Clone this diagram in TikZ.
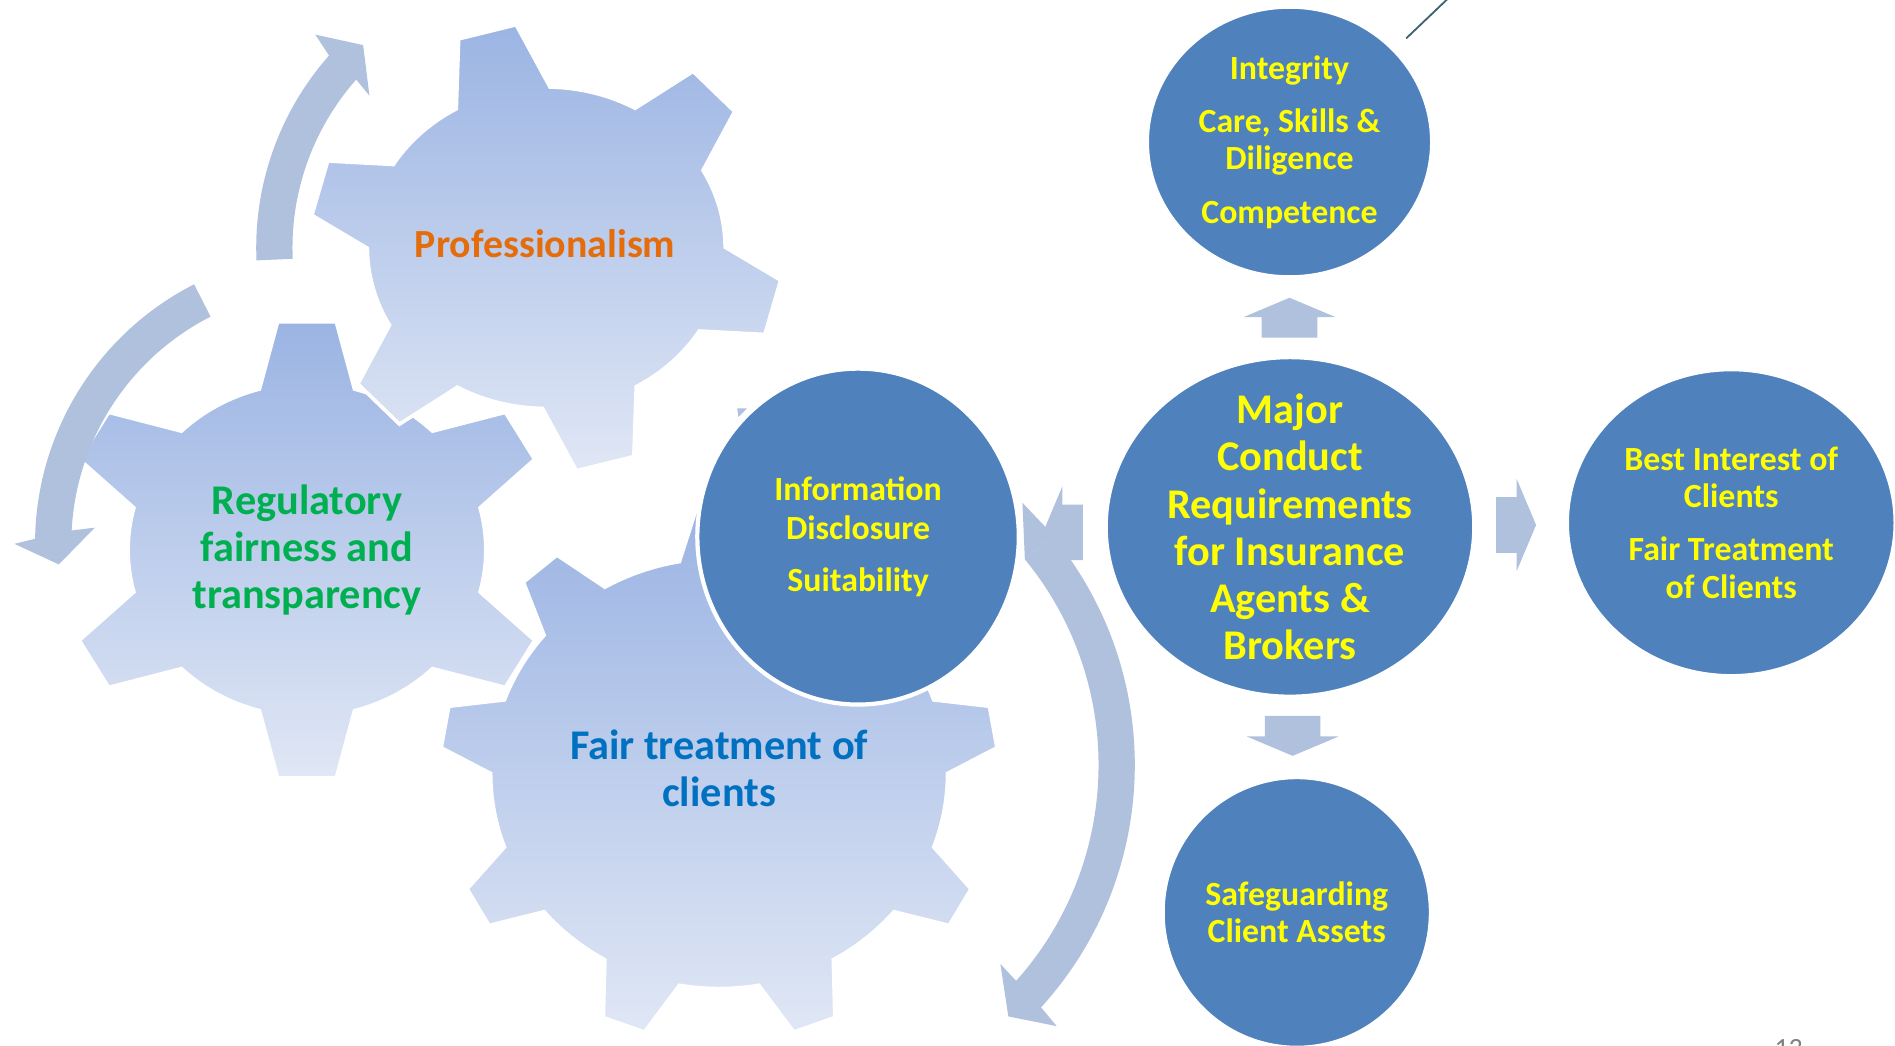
\documentclass[tikz,border=0pt]{standalone}
\usepackage{fontspec}
\setmainfont{Carlito}
\usetikzlibrary{shapes.geometric}

\definecolor{bubblec}{RGB}{79,129,189}
\definecolor{arrowc}{RGB}{176,193,221}
\definecolor{geartop}{RGB}{155,180,227}
\definecolor{gearbot}{RGB}{224,231,245}
\definecolor{profc}{RGB}{228,108,10}
\definecolor{regc}{RGB}{0,176,80}
\definecolor{fairc}{RGB}{0,112,192}
\definecolor{txtc}{RGB}{255,255,0}

\begin{document}
\begin{tikzpicture}[x=1pt, y=1pt,
    gearfill/.style={top color=geartop, bottom color=gearbot, draw=white, line width=3},
    bubble/.style={ellipse, fill=bubblec, draw=white, line width=3.5, inner sep=0},
    ctext/.style={text=txtc, align=center, inner sep=0, font=\fontsize{28}{31}\selectfont\bfseries},
    gtext/.style={align=center, inner sep=0, font=\fontsize{35}{39}\selectfont\bfseries}]
    \useasboundingbox (0,0) rectangle (1568,865);
    \clip (0,0) rectangle (1568,865);
    \fill[white] (0,0) rectangle (1568,865);

    % Gears: centre / teeth / first tooth / body radii / tip radii / half angles
    \foreach \cx/\cy/\N/\st/\ba/\bb/\oa/\ob/\at/\ab in {
        595/225/9/10/189/178/231/222/4.5/10,
        254/410/6/90/148/138/205/190/6.8/15.4,
        452/660/6/44.5/148/133/196/186/7.2/15.7} {
        \path[gearfill, shift={(\cx,\cy)}]
            (xyz polar cs:angle=\st-\ab, x radius=\ba, y radius=\bb)
            \foreach \k [evaluate=\k as \t using {\st+(\k-1)*360/\N}] in {1,...,\N} {
                -- (xyz polar cs:angle=\t-\at, x radius=\oa, y radius=\ob)
                -- (xyz polar cs:angle=\t+\at, x radius=\oa, y radius=\ob)
                -- (xyz polar cs:angle=\t+\ab, x radius=\ba, y radius=\bb)
                arc[start angle={\t+\ab}, end angle={\t+360/\N-\ab}, x radius=\ba, y radius=\bb]
            } -- cycle;
    }

    % Circular arrows round the gears
    \fill[arrowc, shift={(452,660)}] (182.5:240) arc[start angle=182.5, end angle=138.5, radius=240]
        -- (137.3:260) -- (132.1:226) -- (139.3:193) -- (138.5:210)
        arc[start angle=138.5, end angle=182.5, radius=210] -- cycle;
    \fill[arrowc, shift={(270,415)}] (117:241) arc[start angle=117, end angle=179, radius=241]
        -- (180:258) -- (184.4:222) -- (176:192) -- (177:211)
        arc[start angle=177, end angle=117, radius=211] -- cycle;
    \fill[arrowc, shift={(641,232)}] (39.4:298) arc[start angle=39.4, end angle=-42.3, radius=298]
        -- (-42.8:318) -- (-47.1:284) -- (-41.4:249) -- (-41.8:268)
        arc[start angle=-41.8, end angle=39.4, radius=268] -- cycle;
    \fill[arrowc] (848,402) -- (846,449) -- (864,430) -- (871.3,421.1) -- cycle;
    \fill[arrowc] (610,527) -- (618,527) -- (611,520) -- cycle;

    % Gear labels
    \node[gtext, text=profc, font=\fontsize{33}{37}\selectfont\bfseries] (prof) at (451,663) {Professionalism};
    \node[gtext, text=regc] (reg) at (254,410) {Regulatory\\fairness and\\transparency};
    \node[gtext, text=fairc] (fair) at (595,229.5) {Fair treatment of\\clients};

    % Block arrows out of the centre
    \foreach \x/\y/\r in {1067/585.6/0, 1069.6/272.6/180, 1238/430.6/-90, 896/424.5/90} {
        \fill[arrowc, shift={(\x,\y)}, rotate=\r]
            (-23,0) -- (-23,17) -- (-38,17) -- (0,33) -- (38,17) -- (23,17) -- (23,0) -- cycle;
    }

    % Requirement bubbles
    \node[bubble, minimum width=236, minimum height=224] (integ) at (1067,747.5) {};
    \node[bubble, minimum width=305, minimum height=281] (major) at (1067.4,429) {};
    \node[bubble, minimum width=272, minimum height=254] (best) at (1432.5,432.5) {};
    \node[bubble, minimum width=266, minimum height=278] (info) at (710,421) {};
    \node[bubble, minimum width=222, minimum height=224] (safe) at (1073,110) {};

    \node[ctext] at (integ) {Integrity\\[13pt]Care, Skills \&\\Diligence\\[13pt]Competence};
    \node[ctext, font=\fontsize{35}{39}\selectfont\bfseries] at (major)
        {Major\\Conduct\\Requirements\\for Insurance\\Agents \&\\Brokers};
    \node[ctext] at (best) {Best Interest of\\Clients\\[13pt]Fair Treatment\\of Clients};
    \node[ctext, font=\fontsize{28}{32}\selectfont\bfseries] at (info) {Information\\Disclosure\\[11pt]Suitability};
    \node[ctext] at (safe) {Safeguarding\\Client Assets};

    % Odds and ends at the edges
    \draw[line width=1.5, color={rgb,255:red,60;green,100;blue,110}] (1163.5,833.2) -- (1200,868);
    \node[anchor=base, text=gray, font=\fontsize{23}{25}\selectfont] (pageno) at (1480,-10) {13};
\end{tikzpicture}
\end{document}
